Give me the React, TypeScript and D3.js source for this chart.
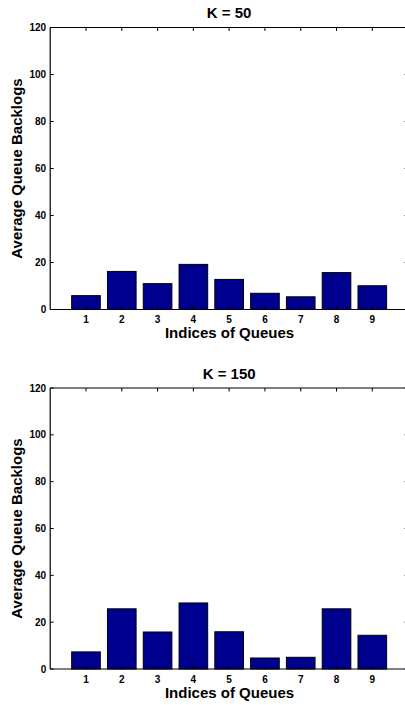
import React from "react";
import * as d3 from "d3";

const queueIndices = [1, 2, 3, 4, 5, 6, 7, 8, 9];
const backlogK50 = [5.9, 16.2, 11.0, 19.2, 12.8, 6.9, 5.4, 15.7, 10.1];
const backlogK150 = [7.3, 25.7, 15.8, 28.2, 15.9, 4.7, 5.0, 25.7, 14.4];
const yTicks = [0, 20, 40, 60, 80, 100, 120];
const panelTitles = ["K = 50", "K = 150"];
const xLabel = "Indices of Queues";
const yLabel = "Average Queue Backlogs";

const FONT = "'Liberation Sans', Arial, Helvetica, sans-serif";
const BAR = "#00008f";

function Panel({ top, bottom, title, values }: { top: number; bottom: number; title: string; values: number[] }) {
  const x = d3.scaleLinear().domain([0, 10]).range([50.2, 408.1]);
  const y = d3.scaleLinear().domain([0, 120]).range([bottom, top]);
  const bw = (x(1) - x(0)) * 0.8;
  const left = x(0);
  const right = x(10);
  const tl = 3.5;
  return (
    <g fontFamily={FONT} fontWeight="bold" fill="#000">
      <text x={(left + right) / 2} y={top - 9.2} textAnchor="middle" fontSize={15}>{title}</text>
      {values.map((v, i) => (
        <rect key={i} x={x(queueIndices[i]) - bw / 2} y={y(v)} width={bw} height={y(0) - y(v)}
          fill={BAR} stroke="#000" strokeWidth={1} />
      ))}
      {/* axes box */}
      <line x1={left} x2={right} y1={y(0)} y2={y(0)} stroke="#000" strokeWidth={1.2} />
      <line x1={left} x2={right} y1={y(120)} y2={y(120)} stroke="#000" strokeWidth={1.2} />
      <line x1={left} x2={left} y1={y(0)} y2={y(120)} stroke="#000" strokeWidth={1.2} />
      <line x1={right} x2={right} y1={y(0)} y2={y(120)} stroke="#000" strokeWidth={1.2} />
      {yTicks.map((t) => (
        <g key={t}>
          <line x1={left} x2={left + tl} y1={y(t)} y2={y(t)} stroke="#000" strokeWidth={1} />
          <line x1={right} x2={right - tl} y1={y(t)} y2={y(t)} stroke="#000" strokeWidth={1} />
          <text x={left - 4} y={y(t) + 3.5} textAnchor="end" fontSize={10}>{t}</text>
        </g>
      ))}
      {queueIndices.map((q) => (
        <g key={q}>
          <line x1={x(q)} x2={x(q)} y1={y(120)} y2={y(120) + tl} stroke="#000" strokeWidth={1} />
          <line x1={x(q)} x2={x(q)} y1={y(0)} y2={y(0) - tl} stroke="#000" strokeWidth={1} />
          <text x={x(q)} y={y(0) + 13.5} textAnchor="middle" fontSize={10}>{q}</text>
        </g>
      ))}
      <text x={229.5} y={y(0) + 28.8} textAnchor="middle" fontSize={15}>{xLabel}</text>
      <text transform={`translate(21.5,${(top + bottom) / 2}) rotate(-90)`} textAnchor="middle" fontSize={15}>{yLabel}</text>
    </g>
  );
}

export default function App() {
  return (
    <svg width={405} height={705} style={{ position: "absolute", left: 0, top: 0, background: "#fff" }}>
      <rect width={405} height={705} fill="#fff" />
      <Panel top={27.5} bottom={309.5} title={panelTitles[0]} values={backlogK50} />
      <Panel top={388} bottom={669} title={panelTitles[1]} values={backlogK150} />
    </svg>
  );
}
